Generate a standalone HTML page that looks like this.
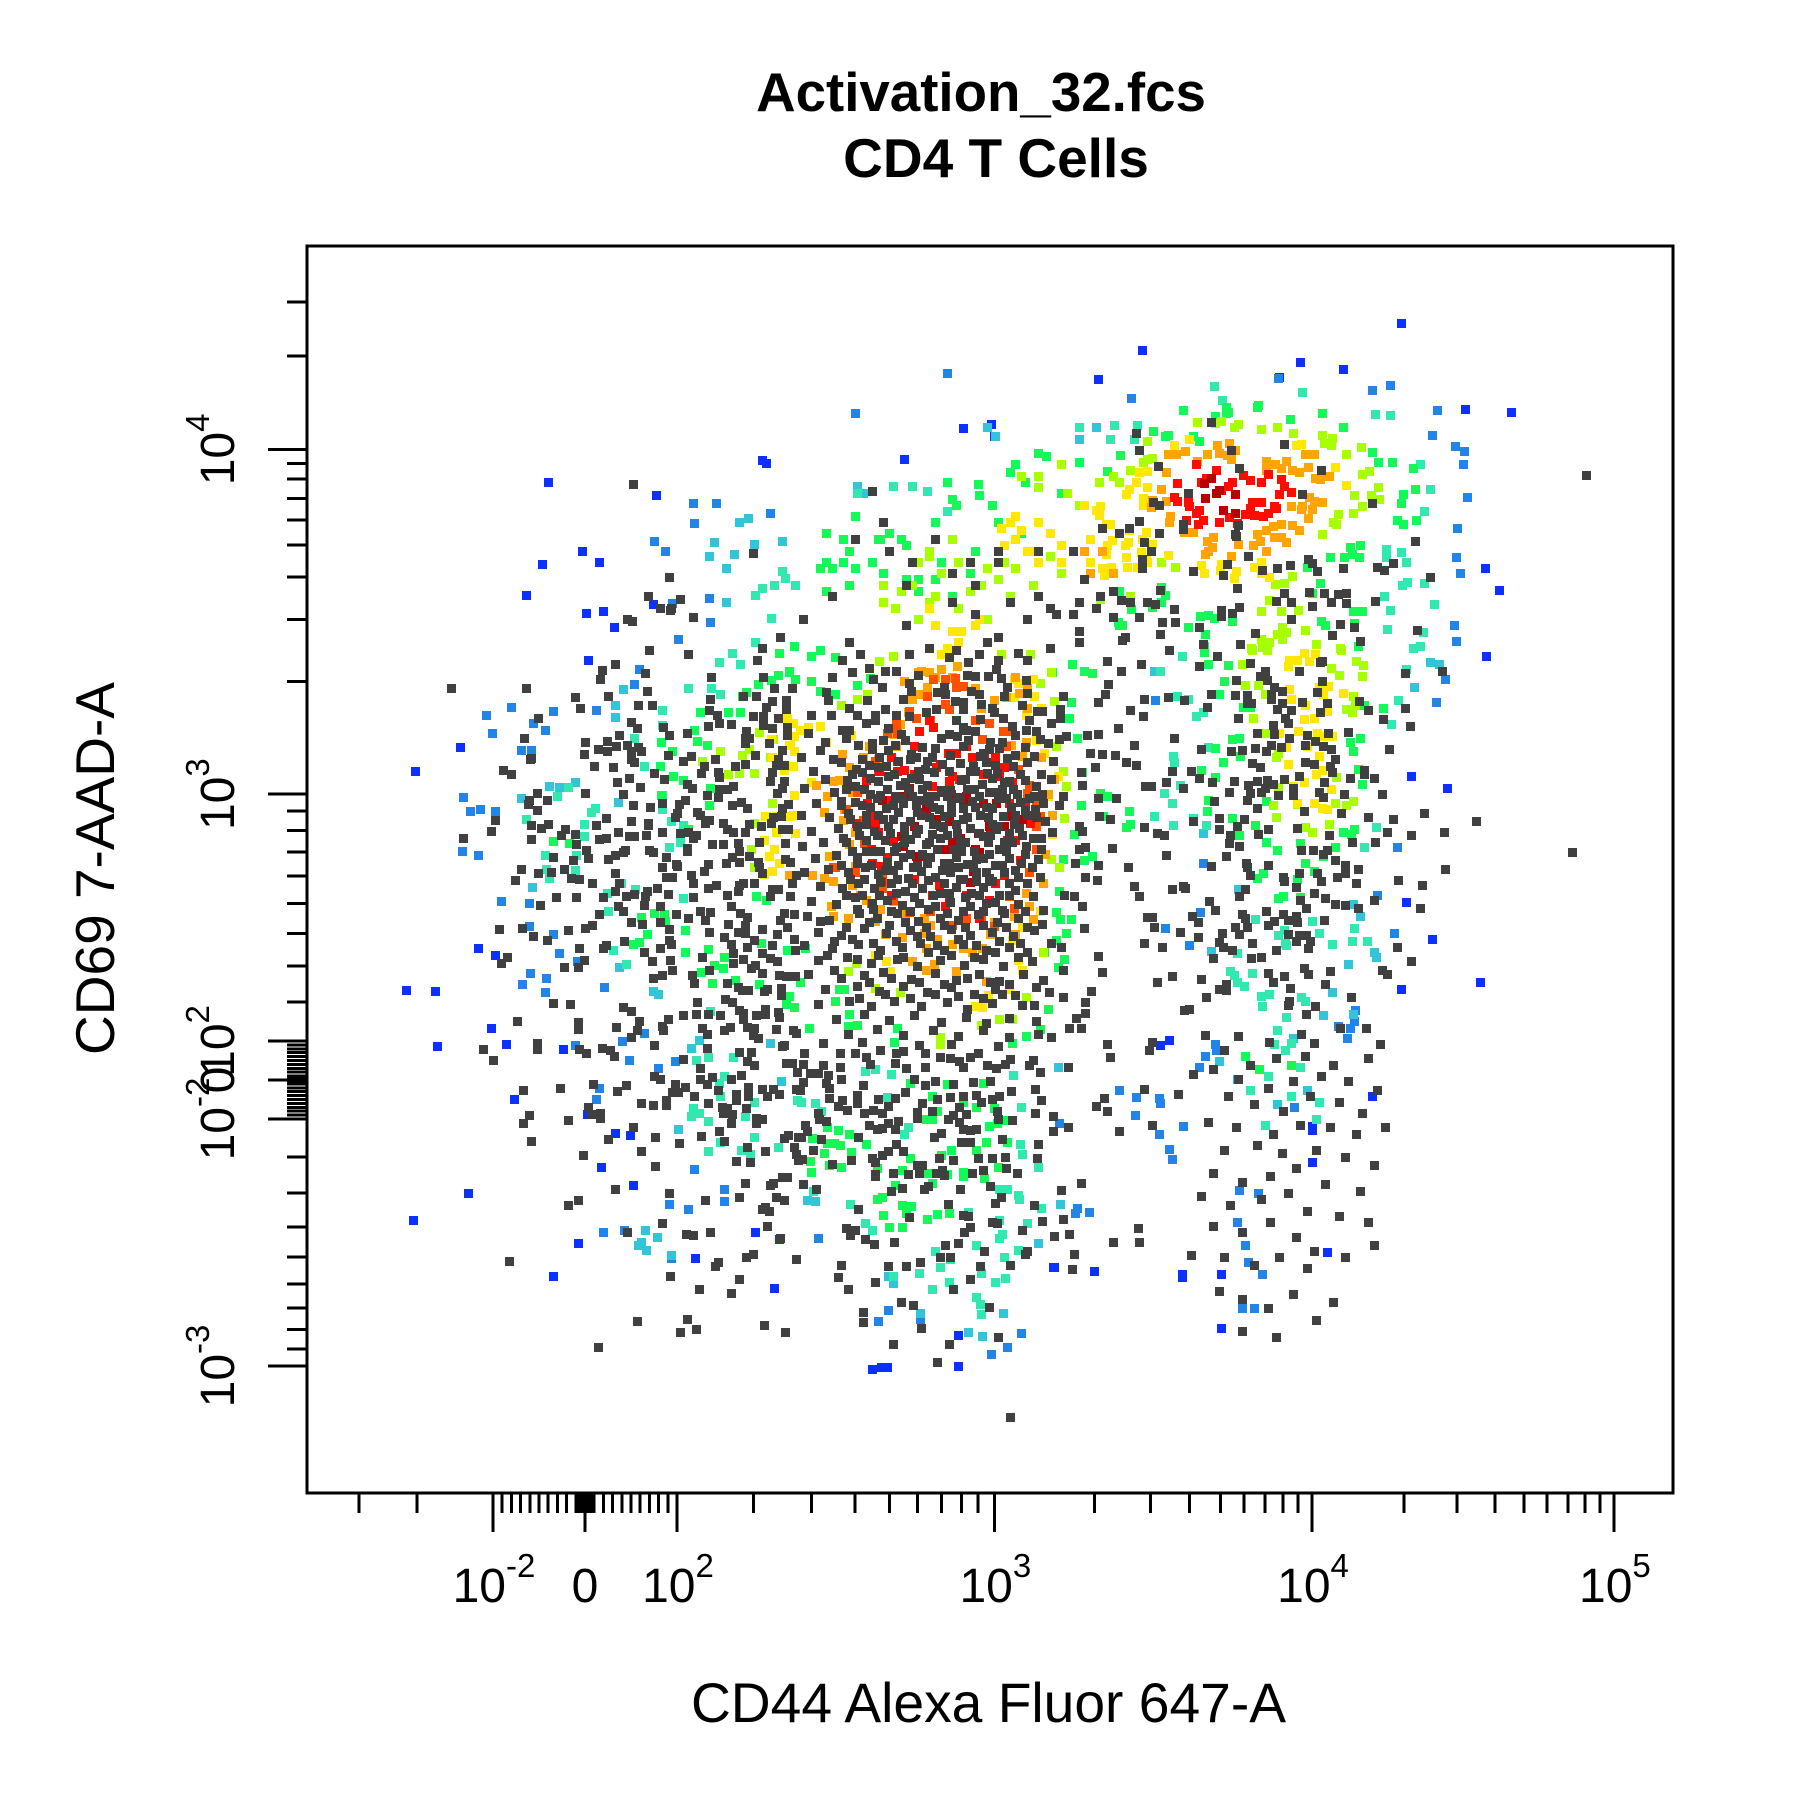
<!DOCTYPE html>
<html><head><meta charset="utf-8"><title>Activation_32.fcs CD4 T Cells</title>
<style>html,body{margin:0;padding:0;background:#fff}svg{display:block}text{font-family:"Liberation Sans",Arial,sans-serif;fill:#000}</style></head>
<body>
<svg id="chart" xmlns="http://www.w3.org/2000/svg" width="1800" height="1800" viewBox="0 0 1800 1800">
<rect x="0" y="0" width="1800" height="1800" fill="#fff"/>
<g id="events" shape-rendering="crispEdges"></g>
<rect x="307" y="246" width="1366" height="1247" fill="none" stroke="#000" stroke-width="3" shape-rendering="crispEdges"/>
<g id="axes"></g>
<text x="981" y="111" font-size="54.7" font-weight="bold" text-anchor="middle">Activation_32.fcs</text>
<text x="996" y="177" font-size="55" font-weight="bold" text-anchor="middle">CD4 T Cells</text>
<text x="988.5" y="1722" font-size="55.2" text-anchor="middle">CD44 Alexa Fluor 647-A</text>
<text x="0" y="0" transform="translate(114 868.5) rotate(-90)" font-size="55" text-anchor="middle">CD69 7-AAD-A</text>
</svg>
<script>
/* Axis tick locations and event coordinates are in biexponential display channels. */
const xMajorTicks=[162.4,242.6,322.7,599.2,875.9,1138.9];
const xExponents=['-2',null,'2','3','4','5'];
const xMinorTicks=[45.7,96.2,170.4,178.4,186.5,194.5,202.5,210.5,218.6,226.6,234.6,235.4,236.2,237,237.8,238.6,239.4,240.2,241,241.8,243.4,244.2,245,245.8,246.6,247.4,248.2,249,249.8,250.6,258.6,266.7,274.7,282.7,290.7,298.7,306.7,314.7,389.4,440,478,507.7,532.2,553,570.6,585,686.6,735.2,769,796.1,816.6,834.9,850.6,863.7,956,1002.2,1035.2,1060.5,1080.6,1098.9,1113.7,1126.7];
const yMajorTicks=[110.1,325.2,359.2,393.2,608.2,908.5];
const yExponents=['-3','-2',null,'2','3','4'];
const yMinorTicks=[124.9,141.9,160.6,181.5,205,231.2,260.8,292.2,328.6,332,335.4,338.8,342.2,345.6,349,352.4,355.8,356.5,357.2,357.9,358.6,359.8,360.5,361.2,361.9,362.6,366,369.4,372.8,376.2,379.6,383,386.4,389.8,427,458.4,486.9,513.1,536.9,557.6,576.6,593.6,706.4,760.5,797.4,825.3,847.2,865.9,882.7,896.2,989.9,1036.9];

const blueEvents=[954,1018,728,995,690,969,866,984,903,978,1050,941,1010,943,848,971,599,920,521,900,572,927,597,930,1027,805,1039,786,1028,728,963,624,994,613,958,514,981,482,1023,444,954,438,752,394,744,389,397,899,401,896,211,880,305,868,240,820,255,810,206,808,192,781,244,766,259,767,268,753,302,773,246,725,134,649,95,628,150,474,165,468,87,437,112,436,161,404,174,390,114,388,224,386,181,342,245,329,269,313,282,311,257,283,285,267,141,260,93,237,237,217,391,226,412,220,339,204,215,188,408,178,889,209,797,190,763,187,686,192,652,196,651,196,568,137,501,109,493,107,506,109,568,110,797,143,876,287,876,319,797,143,763,190,929,345,889,209,876,315];
const azureEvents=[719,953,847,970,929,960,985,942,944,964,981,921,1001,911,1009,907,1008,895,1011,867,1003,840,1002,814,1005,800,1000,755,1002,741,337,861,357,861,404,853,338,844,303,828,313,820,351,779,319,774,352,758,324,743,290,717,286,704,215,680,253,681,198,670,208,664,162,661,187,646,196,646,137,605,143,593,152,595,165,593,136,558,150,555,179,684,157,677,446,221,507,158,498,149,535,151,672,247,670,243,682,244,623,138,611,126,597,120,722,328,743,312,764,319,743,343,744,339,723,344,656,321,708,350,752,299,754,290,992,708,984,688,740,690,950,562,781,548,933,520,779,505,748,491,948,487,769,476,909,404,913,410,899,406,792,390,194,493,215,486,220,469,236,462,195,452,209,448,188,442,208,435,260,440,275,393,294,400,281,376,307,369,321,375,234,389,255,352,253,342,338,281,316,251,333,246,364,264,364,253,259,226,277,228,318,204,170,515,194,513,558,975,478,940,783,380,793,385,778,370,818,215,821,200,815,160,826,160,829,260,813,263,861,335,833,190,811,235,914,420,907,395];
const cyanEvents=[377,845,385,848,415,828,355,827,390,826,351,815,373,817,366,805,366,775,276,699,269,685,269,675,212,615,234,618,187,604,272,601,197,527,220,614,436,254,443,253,507,188,511,182,607,156,638,217,657,251,577,139,589,136,655,370,535,156,987,721,979,723,965,701,739,715,912,512,918,502,781,574,812,525,894,435,912,416,930,470,932,466,908,460,788,471,886,415,273,457,302,436,307,434,342,394,335,387,404,391,414,358,324,316,295,228,306,222,292,218,296,211,289,215,318,206,480,876,485,870,593,928,600,920,673,917,688,928,811,360,795,375,860,395,846,338,872,350];
const tealEvents=[704,929,724,929,791,963,798,951,868,958,931,939,944,938,970,895,979,874,974,854,967,847,941,821,954,819,941,814,958,810,959,793,955,790,974,792,939,780,983,773,944,768,942,752,973,749,970,737,964,735,415,802,417,796,408,790,397,787,391,781,426,790,405,761,391,740,371,731,360,723,378,721,333,700,353,700,361,695,310,681,310,668,286,657,294,632,219,606,228,614,252,596,248,592,192,586,242,582,242,571,318,584,328,581,310,595,310,607,316,562,326,566,208,555,235,555,234,542,209,543,212,535,274,530,287,525,262,522,328,517,443,339,431,340,449,332,442,262,474,251,487,234,493,228,524,318,521,312,506,344,510,364,623,335,616,363,622,303,624,294,638,283,604,264,611,264,620,259,621,255,640,247,577,244,604,237,628,234,606,225,604,221,584,215,548,210,552,196,534,191,560,183,545,177,511,188,600,183,609,186,588,191,584,170,587,164,588,155,620,211,608,205,561,203,487,367,496,368,763,728,744,715,759,693,768,691,775,676,781,679,755,641,756,636,761,616,747,609,754,600,739,589,755,581,784,581,773,587,951,690,945,669,958,717,932,579,922,562,913,491,911,480,924,480,894,477,882,487,876,497,852,489,847,485,853,478,854,476,827,499,811,469,823,465,805,454,808,450,811,444,817,441,824,452,839,434,832,432,833,423,870,428,867,431,854,414,846,402,858,391,786,649,263,506,267,472,279,460,352,419,350,379,340,376,372,379,364,362,360,356,361,345,390,340,337,334,342,330,335,327,350,323,382,327,390,309,361,305,379,298,387,294,350,297,411,300,428,341,480,870,511,876,528,876,541,872,558,854,700,917,721,917,673,928,853,385,843,390,822,350,835,320,866,370,838,362,858,345,882,340,880,325];
const greenEvents=[764,942,738,924,751,921,709,903,698,889,792,937,803,941,801,945,829,947,857,935,885,940,903,928,929,906,934,897,946,897,956,869,954,861,964,892,966,874,950,847,956,843,967,847,909,823,918,825,911,817,892,814,904,814,917,814,872,806,883,792,748,781,745,788,719,769,737,771,876,783,779,763,786,764,791,761,807,759,768,753,783,747,782,737,884,759,888,755,912,767,920,767,913,757,916,737,707,758,711,755,425,737,412,731,411,712,421,714,405,707,394,704,426,708,383,697,380,693,368,679,378,679,343,679,338,664,309,653,319,645,341,654,349,651,308,632,320,624,328,620,352,613,351,598,215,567,229,565,309,607,333,577,440,728,448,733,461,727,421,715,440,706,480,703,461,695,448,698,491,709,499,724,667,721,678,715,685,713,666,688,650,714,665,674,672,657,676,627,697,606,692,609,717,593,714,579,718,582,669,573,685,554,678,550,675,598,659,551,656,523,392,519,401,516,653,481,662,487,666,499,657,499,653,505,643,470,660,464,655,457,435,474,419,472,396,478,430,444,464,438,461,428,469,438,421,432,418,425,425,422,515,404,512,392,473,416,438,404,472,406,480,407,694,589,698,606,646,421,639,403,627,397,615,391,463,315,473,312,454,318,441,308,454,304,460,304,465,302,451,295,475,296,439,288,456,285,466,283,440,279,488,303,497,282,519,280,513,267,497,255,502,257,519,250,527,249,523,243,503,241,508,231,519,231,541,238,550,242,560,243,526,291,553,293,562,298,584,298,592,305,595,319,611,305,572,279,572,275,591,273,603,283,542,278,545,269,558,277,540,325,545,325,550,332,545,345,572,340,584,335,599,334,607,324,602,321,562,355,590,356,526,356,558,355,782,732,786,721,803,720,800,706,795,695,816,684,822,684,938,683,922,685,807,656,813,657,799,636,814,641,792,648,918,657,909,653,912,645,780,629,792,623,916,630,920,617,836,602,786,603,785,593,807,587,827,581,813,572,836,566,846,559,866,565,896,562,913,577,903,575,910,573,886,554,870,548,878,541,834,539,828,535,863,534,851,519,847,517,866,518,292,501,303,504,312,503,313,497,297,486,290,479,285,477,330,489,330,470,350,473,364,466,355,459,363,456,344,453,374,446,354,443,395,442,558,880,586,868,613,888,645,902,673,897,566,860,500,830,518,830,468,810,478,805,453,810,583,820,553,810,708,785,773,920,801,940,828,945,748,920,778,915,708,755,745,775,618,895,626,880,638,905,658,870,533,795,523,795,493,810,503,800,473,790,453,785,498,830,473,820,458,805,453,835,478,850,508,835,468,830,448,805,523,825,548,845,563,865,598,860,585,878,533,785,548,795,563,780,578,800,603,845,623,835,818,380,830,368,858,372];
const limeEvents=[776,932,792,931,797,933,808,928,812,930,832,926,846,928,860,922,885,921,894,918,887,914,893,912,906,904,919,910,920,887,926,889,934,875,928,868,913,868,920,859,935,865,912,853,899,852,895,845,897,843,885,834,729,897,737,901,745,810,757,806,859,798,852,792,844,791,832,767,849,767,839,777,864,768,870,751,850,753,846,747,854,749,850,743,832,743,839,740,880,739,901,735,718,780,692,778,823,735,833,736,390,626,377,626,368,625,386,647,380,642,361,645,345,637,395,662,407,656,404,640,388,560,390,583,406,600,390,544,511,728,499,724,605,730,631,730,649,714,639,705,652,689,480,691,466,685,489,695,401,589,660,587,662,615,659,628,653,650,649,551,656,544,627,431,615,412,496,439,517,435,472,454,479,461,552,396,552,390,604,412,588,407,642,470,624,455,815,721,824,733,837,733,902,733,915,724,921,720,920,711,900,712,893,718,829,703,818,703,835,695,912,693,906,682,911,679,914,685,825,674,836,661,845,640,847,644,842,598,845,588,863,599,896,600,906,598,912,602,891,582,870,579,876,575,897,623,847,614,860,614,623,885,638,875,503,790,518,785,548,780,568,770,613,780,633,790,658,800,663,870,691,880,703,885,733,915,733,900,533,760,543,775,593,760,503,775,528,790,578,785,603,795,618,805,648,815,673,860,708,880,718,890,553,800,568,810,588,790,593,805,608,810,638,885,658,895,563,830,543,815,543,820,513,770,533,810];
const yellowEvents=[756,912,769,917,733,889,726,888,729,866,729,860,717,874,714,869,692,859,691,851,697,843,700,843,717,838,702,829,716,827,732,836,737,826,727,819,751,816,732,812,714,814,697,817,701,806,715,806,724,806,695,799,780,807,782,800,797,808,796,803,810,802,808,796,826,806,832,810,832,800,839,797,867,913,862,912,896,893,906,877,418,676,424,670,425,658,421,651,425,645,405,656,406,640,416,629,424,632,400,589,409,589,422,589,425,607,399,568,408,560,403,554,412,548,406,541,399,538,409,575,426,574,617,708,620,705,617,692,633,708,634,693,627,677,640,683,419,673,430,664,437,666,448,667,475,659,453,653,422,651,424,632,643,644,636,655,627,653,646,606,655,624,424,590,440,618,444,616,615,481,624,492,633,499,639,506,496,468,505,462,509,454,620,463,624,455,612,438,594,433,583,423,589,422,650,573,856,725,855,719,863,725,869,731,874,724,879,730,856,699,858,691,890,702,903,696,869,673,878,674,864,663,881,661,886,658,894,658,854,649,872,650,882,641,855,634,885,629,880,625,869,618,893,612,860,615,863,600,878,600,885,596,889,595,882,701,886,695,870,685,889,680,848,661,605,840,613,845,623,838,618,830,628,820,638,845,648,835,658,825,638,810,678,860,688,855,683,830,698,825,658,810,728,830,713,825,733,810,723,880,733,875,683,810,693,805,548,755,563,750,543,770,558,735,568,740,583,755,571,750,553,730,586,760,618,850,631,820,608,825];
const orangeEvents=[751,904,758,904,766,907,749,888,745,874,794,912,804,914,809,908,785,904,776,898,802,903,806,900,795,905,836,898,844,895,854,898,849,892,859,890,865,888,836,890,873,893,878,904,870,904,879,883,883,882,891,885,874,867,878,863,885,862,867,856,876,856,858,859,868,859,873,848,859,842,865,838,849,843,849,832,854,827,843,832,836,820,828,834,831,828,825,825,812,826,836,838,842,841,790,832,785,828,789,823,786,820,783,817,806,815,753,850,752,845,773,836,765,836,749,863,737,864,736,858,536,715,543,714,553,717,567,719,533,714,521,706,541,701,528,691,599,690,588,683,524,679,517,669,512,660,514,650,498,638,473,631,454,606,444,616,459,619,451,592,467,643,469,595,473,564,456,554,461,544,451,535,459,532,476,529,488,516,511,515,457,510,459,502,496,497,504,486,519,483,522,503,538,500,544,494,563,494,538,487,540,474,563,477,572,474,589,474,596,486,599,496,617,502,633,499,621,696,628,683,607,663,614,651,627,653,624,641,646,608,652,621,627,522,618,486,528,462,540,455,566,454,592,445,547,460,441,537,421,537,683,800,693,820,703,800,678,820,548,710,563,710,533,695,583,700,628,700,618,710,464,620,476,610,468,585,478,575,485,640,490,650,478,545,483,520,500,508,472,500,610,692,640,640,650,590,644,556,642,530,630,510,580,470,550,482];
const redOrangeEvents=[557,708,546,708,565,709,572,702,566,701,541,693,531,674,544,672,557,686,560,682,583,672,595,670,589,656,514,669,515,661,496,637,498,628,470,595,506,661,630,616,628,609,636,603,636,580,639,589,610,663,607,663,459,544,502,526,502,534,492,513,511,516,612,519,617,509,544,506,563,494,588,500,599,493,636,560,461,544,493,548,525,680,610,650,620,630,480,610,485,585,486,565,478,540,630,540,640,570,525,505,575,500];
const redEvents=[775,895,793,890,780,880,759,879,784,883,807,880,816,886,822,881,832,880,838,887,849,882,852,876,848,869,858,871,843,859,832,862,824,862,822,857,845,857,838,853,834,850,826,851,818,852,804,849,795,845,811,844,778,855,775,853,781,847,777,843,768,862,769,859,759,863,756,867,767,847,797,873,803,876,534,663,546,666,543,672,559,644,566,644,515,637,515,628,499,628,521,629,552,634,549,631,591,644,563,624,569,621,560,619,505,603,489,600,496,590,496,583,479,583,511,567,506,553,501,545,493,548,501,532,530,534,551,529,560,516,557,510,595,516,586,500,608,537,618,568,611,568,631,583,623,586,626,600,615,618,604,624,608,631,530,625,545,615,590,625,600,640,510,640,488,620,498,575,492,560,510,520,545,520,575,520,600,530,622,550,612,600,580,640,530,650,575,650];
const darkRedEvents=[782,879,788,883,793,870,809,869,783,866,795,873,799,855,809,853,521,606,502,603,525,613,549,586,560,584,562,608,572,603,575,606,601,600,610,589,608,580,585,574,583,560,586,557,563,566,557,560,551,560,518,571,520,563,531,554,581,541,578,531,624,586,537,554,540,595,595,580,570,570,530,580,590,600];
const grayEvents=[1115,886,1103,557,788,932,723,922,726,908,742,894,806,908,852,913,813,892,884,890,768,870,868,869,738,862,743,860,929,861,726,846,717,840,693,840,764,843,764,839,812,842,809,834,810,833,743,835,730,827,736,820,728,813,966,828,821,815,802,808,873,813,876,809,947,809,933,806,939,803,773,802,799,799,833,803,846,805,857,807,881,802,903,805,979,797,744,786,811,787,852,783,874,784,887,783,899,782,906,783,692,780,710,777,740,773,756,769,845,776,858,775,876,772,893,775,906,774,931,776,813,771,797,768,797,763,807,766,703,762,726,762,746,758,757,758,858,760,901,756,913,753,778,753,827,748,744,747,894,746,711,742,918,741,781,739,814,739,968,751,
493,872,503,845,478,830,528,810,523,790,563,800,583,790,603,810,603,820,638,780,648,770,668,765,708,835,728,805,733,775,703,785,718,775,688,770,673,775,713,745,673,750,653,765,628,760,603,745,523,755,543,735,593,740,628,725,648,735,673,740,603,725,458,780,473,740,433,760,413,745,393,725,423,700,398,710,353,710,333,730,318,770,298,780,458,710,483,730,563,775,583,765,508,820,548,830,578,810,638,820,668,820,678,795,613,775,
752,733,794,728,778,719,822,722,865,715,883,723,885,724,957,713,990,715,835,715,831,711,837,707,810,707,885,706,843,701,850,698,841,695,881,697,788,695,809,694,820,694,751,692,765,690,785,684,820,687,823,687,841,691,850,687,846,682,858,681,868,688,889,687,883,679,917,689,925,681,957,683,938,673,812,674,853,674,842,668,855,670,962,667,908,662,890,661,756,657,828,661,843,660,856,657,872,659,870,651,879,654,780,647,827,648,815,646,806,645,841,651,849,649,836,645,886,650,893,647,896,638,943,647,824,635,831,631,870,636,878,634,754,628,771,628,892,632,894,627,922,629,922,625,930,622,778,622,909,622,852,621,865,624,808,619,789,618,749,618,764,613,736,615,821,616,828,619,837,620,842,617,835,613,804,610,822,609,832,610,860,613,847,607,860,607,887,618,882,610,886,605,904,608,937,608,791,602,820,603,828,596,869,593,974,591,902,591,925,588,947,586,1019,584,795,587,773,584,817,586,795,577,811,580,863,578,838,577,942,575,991,575,741,574,747,572,829,573,891,572,963,572,805,572,804,565,813,563,911,566,931,566,867,559,877,559,889,559,886,556,749,555,801,554,819,548,820,544,838,546,896,550,905,546,916,543,788,545,992,543,822,537,865,539,881,539,898,536,905,539,851,536,852,532,884,532,951,533,915,530,972,529,764,528,754,525,766,526,818,525,862,527,813,519,878,522,866,516,888,517,930,516,787,515,896,512,905,511,916,509,792,507,871,509,970,509,836,506,815,503,851,503,862,502,737,501,772,502,818,500,887,498,777,496,838,494,843,497,855,498,863,496,809,492,820,492,739,492,761,488,777,483,798,487,813,486,855,486,865,485,871,485,795,479,799,475,875,480,862,480,746,475,807,472,824,478,873,474,845,472,950,475,790,465,823,465,832,466,963,462,869,456,873,451,892,454,937,455,942,451,754,449,780,447,741,444,838,452,852,449,842,444,888,442,801,442,795,438,801,437,857,439,910,431,784,431,856,428,855,424,879,423,769,421,765,420,871,416,901,404,923,404,783,398,812,397,867,399,839,392,878,391,936,390,737,392,
800,385,822,372,845,378,870,380,895,372,925,378,790,368,812,360,838,352,860,358,884,362,908,358,933,350,803,345,826,338,851,332,875,345,900,340,920,330,786,322,810,318,842,312,866,320,892,318,915,312,940,318,800,298,828,302,850,295,880,298,905,292,930,285,790,278,815,270,840,275,862,282,888,268,918,262,780,258,805,250,832,255,855,260,872,245,900,240,925,235,790,232,815,226,840,235,862,222,878,210,905,205,930,215,800,205,826,198,848,205,872,195,795,175,815,168,838,160,860,172,880,150,895,165,815,140,845,135,
285,878,316,797,389,818,326,778,308,770,317,768,337,762,280,760,284,759,299,733,397,735,269,721,258,716,256,708,295,713,126,700,192,700,408,700,297,698,234,692,263,693,352,691,381,693,392,693,406,689,418,690,239,683,289,685,301,685,401,684,418,682,351,681,358,677,202,674,389,676,398,676,411,674,283,671,360,670,370,669,398,668,406,665,419,666,288,665,311,666,350,667,190,657,273,659,316,659,332,661,383,663,419,659,382,657,386,657,382,652,243,653,262,654,403,652,254,647,270,650,280,651,289,649,292,645,262,645,242,643,283,645,315,642,335,641,391,642,415,646,196,639,195,638,283,638,328,637,356,638,286,636,411,638,416,633,172,629,179,625,251,632,267,631,382,634,374,632,409,633,347,632,303,626,359,627,406,627,281,622,312,621,344,626,360,623,271,618,332,617,404,619,416,619,291,614,336,613,372,615,360,612,367,612,201,609,243,609,415,613,276,608,349,607,410,609,210,603,194,603,193,599,359,605,330,603,310,600,325,599,371,598,379,601,201,594,285,598,300,597,384,596,415,596,420,599,323,591,341,592,343,590,414,589,165,585,261,587,321,588,211,582,283,584,298,583,351,585,407,588,196,581,253,581,205,578,298,581,348,583,363,583,386,582,396,580,405,583,161,576,226,577,272,575,310,575,326,574,333,575,367,577,372,575,382,575,415,577,420,577,137,570,196,569,222,572,234,573,255,569,261,570,281,571,286,571,296,572,340,572,337,570,332,561,354,564,363,564,376,565,395,566,417,565,235,564,244,559,278,559,276,557,299,559,302,557,332,558,377,558,215,553,246,552,269,555,263,551,371,553,386,554,233,550,314,553,322,547,350,547,366,548,377,549,394,549,417,551,422,549,187,543,310,544,323,545,225,543,347,541,395,544,202,539,213,540,269,539,397,539,182,533,231,535,238,534,314,536,335,537,319,536,249,530,273,530,337,530,427,537,390,530,381,530,306,526,350,526,357,529,377,529,269,523,297,523,406,525,423,530,411,525,218,518,235,518,259,518,279,519,286,521,295,519,315,521,337,518,367,520,376,523,404,519,422,519,
204,511,255,503,272,510,276,506,294,511,308,510,322,503,333,500,343,506,352,505,370,510,378,504,384,501,416,504,425,503,249,494,283,496,293,495,308,496,348,498,368,495,413,498,168,490,188,491,243,491,316,490,382,494,397,490,419,492,198,484,228,489,351,488,376,488,382,487,410,486,210,481,277,480,316,481,364,483,390,481,425,482,238,474,259,474,261,476,308,474,318,477,370,477,384,475,406,476,175,466,294,470,345,466,372,469,397,469,426,472,170,461,242,463,301,462,317,463,381,464,372,461,404,465,410,462,225,457,237,457,319,455,351,455,388,456,391,459,397,452,310,450,302,448,336,450,412,450,418,449,426,449,338,443,367,443,376,440,380,437,385,437,399,436,414,439,402,438,365,429,371,427,215,426,230,425,276,422,283,419,341,427,414,433,184,410,237,409,237,403,270,405,290,410,288,402,311,402,310,406,315,412,328,415,340,416,350,416,361,415,377,420,381,417,381,412,392,415,400,421,400,416,411,418,412,414,345,404,364,402,369,405,384,405,390,404,409,403,424,402,283,396,349,399,389,398,394,395,427,400,201,391,201,386,154,386,238,386,244,382,258,387,265,385,303,389,349,387,416,389,415,388,163,376,268,380,328,377,377,383,388,383,384,375,390,372,423,374,418,374,343,369,428,366,303,362,308,360,343,360,354,361,370,360,379,363,189,350,221,352,250,355,279,354,271,349,321,355,330,353,349,355,359,350,385,353,397,351,407,351,427,351,319,348,324,348,338,345,375,347,385,345,402,345,412,347,292,339,302,337,314,341,314,337,350,339,375,341,246,335,362,335,383,334,194,328,256,330,367,334,371,329,363,330,189,321,228,324,248,329,256,326,392,326,397,325,392,321,370,321,285,318,360,314,196,306,263,307,304,309,325,304,344,310,364,306,416,308,420,311,429,309,292,297,384,300,400,297,425,300,427,294,241,293,304,284,375,288,387,287,429,289,382,269,269,264,316,260,377,257,404,267,407,269,415,274,419,274,237,254,228,250,348,254,409,257,416,254,397,246,403,245,400,248,310,234,402,232,280,226,331,225,337,224,352,226,413,221,177,201,359,200,356,197,383,205,389,207,427,203,317,188,377,185,342,177,370,173,288,149,332,151,340,142,326,139,399,145,417,139,254,126,
434,382,465,382,478,382,488,379,500,385,514,382,520,384,539,382,552,379,561,378,569,375,578,379,585,382,613,377,633,376,700,379,734,385,433,373,450,372,465,370,491,373,513,374,523,369,539,370,572,370,593,372,601,369,609,373,630,372,639,366,664,370,439,365,446,365,455,363,433,357,453,356,466,360,485,354,530,360,539,354,548,358,564,355,581,357,596,358,614,349,635,351,773,364,456,352,430,350,480,346,522,348,572,345,561,344,584,346,604,345,456,343,467,341,498,342,513,343,537,339,550,342,588,340,598,342,640,341,695,343,730,351,760,347,463,336,471,333,480,339,507,336,494,333,486,330,446,330,502,330,532,331,545,332,569,335,602,332,688,336,635,330,698,332,447,325,453,323,532,326,559,325,564,328,575,329,603,325,615,324,651,327,490,320,516,323,435,320,507,321,569,322,553,313,572,316,584,316,578,315,497,316,502,317,513,316,664,318,708,314,651,314,737,320,436,314,481,309,449,307,547,309,431,309,606,307,514,303,571,305,578,305,638,303,442,298,507,297,520,297,502,293,475,289,493,291,432,290,551,291,564,289,585,291,598,291,609,292,637,291,496,287,458,286,532,285,537,285,496,277,496,275,511,278,524,277,534,278,554,280,556,276,549,278,580,278,590,280,610,282,619,278,433,268,444,264,613,65,550,113,511,129,560,129,603,135,536,143,485,148,485,157,529,163,518,165,595,161,564,177,496,183,472,177,463,187,578,185,507,197,523,197,535,200,466,198,587,197,613,198,552,205,561,205,591,210,628,210,626,207,667,194,669,207,771,206,703,218,726,218,725,230,652,223,665,225,624,228,568,217,557,215,512,218,495,216,487,220,474,224,478,228,470,230,573,226,578,231,602,234,598,235,641,236,659,238,634,250,600,252,481,246,525,239,572,241,577,240,559,251,658,263,675,269,605,257,570,264,538,264,542,266,519,265,510,262,596,266,
698,724,727,721,710,715,699,704,696,695,730,691,690,688,718,681,729,676,707,665,680,659,690,660,721,651,683,644,693,643,705,642,714,636,723,633,687,631,675,627,676,616,731,615,659,606,690,604,706,604,700,586,691,589,673,580,676,576,730,579,702,561,673,560,679,562,690,546,716,544,670,548,679,536,689,533,721,528,660,520,669,519,726,519,676,510,733,501,678,491,730,478,658,475,690,467,693,453,659,455,684,436,659,431,679,427,679,417,634,424,647,435,671,413,649,396,665,404,675,404,698,390,
467,725,525,730,560,727,566,733,586,730,620,731,577,723,490,718,504,715,514,715,476,714,494,708,533,712,576,712,583,711,594,711,601,717,605,709,502,701,525,705,527,698,627,707,611,701,556,701,550,697,557,695,579,698,586,695,628,696,608,693,453,697,455,690,489,690,520,691,565,689,572,688,572,682,588,686,598,683,599,679,624,685,637,680,641,680,659,693,657,682,473,683,480,677,496,677,504,682,514,677,525,676,540,679,549,682,607,674,587,673,630,672,649,670,657,674,457,677,440,677,488,670,496,672,507,665,467,664,473,664,566,672,572,666,560,660,567,658,575,664,583,663,615,667,627,664,636,663,639,656,656,656,662,658,
437,661,452,653,470,657,481,651,503,655,518,660,537,649,553,657,596,653,604,648,618,659,646,652,431,640,448,646,459,638,493,647,499,640,513,651,527,643,541,637,572,650,587,641,595,647,611,639,626,649,634,641,651,637,442,628,466,636,479,630,490,633,505,632,526,638,533,628,545,640,570,635,583,628,592,636,602,626,616,632,628,636,640,625,452,621,471,620,484,627,498,619,512,625,522,618,534,621,547,627,553,611,571,620,578,628,589,617,598,622,612,619,622,625,636,615,649,621,434,613,460,610,478,615,491,608,506,612,517,616,528,606,537,612,543,601,556,610,567,605,576,612,586,606,595,610,606,612,619,608,630,604,641,608,444,600,466,602,484,598,497,604,511,598,519,604,531,598,541,606,551,595,562,600,572,596,580,602,592,597,603,604,614,597,622,601,635,595,656,598,431,590,456,588,472,591,488,590,503,586,516,592,526,584,536,590,546,582,556,589,566,582,576,588,587,590,598,582,607,589,617,582,628,590,644,584,440,576,463,578,480,580,495,576,507,580,521,575,533,577,545,573,555,579,567,574,578,578,590,571,601,577,612,574,621,578,633,570,650,575,432,563,450,566,470,566,488,568,504,568,514,562,526,569,540,564,552,570,564,560,574,566,582,558,594,566,604,560,615,566,627,563,640,560,443,552,462,555,480,553,494,558,506,549,520,553,532,546,544,553,556,548,566,553,576,547,590,552,600,546,612,552,623,548,638,551,434,540,455,543,472,540,487,544,498,538,511,542,524,535,536,541,548,536,561,540,572,534,584,540,595,535,608,540,620,536,639,536,448,528,467,526,481,530,495,526,510,530,522,523,537,526,552,522,566,527,579,522,590,527,604,520,618,524,633,519,440,515,462,512,478,518,493,513,506,516,519,511,534,513,548,510,561,514,578,510,592,513,606,507,620,512,642,507,436,502,456,498,482,504,497,500,515,504,533,497,552,500,568,498,585,503,602,496,620,500,641,495,446,488,466,485,486,491,505,487,526,489,544,484,562,490,578,485,598,488,616,484,634,489,434,476,458,474,481,477,500,472,519,475,535,478,556,472,572,477,592,472,612,475,628,470,649,478,446,463,471,466,492,461,515,464,532,458,552,463,573,459,590,464,607,458,632,462,437,451,460,455,486,450,503,453,527,447,548,452,566,446,586,451,604,445,625,451,642,446,452,438,480,441,499,436,520,441,541,435,562,440,582,434,600,438,618,433,636,440,446,425,473,428,492,423,512,428,536,423,558,427,576,421,598,426,624,424,462,412,486,416,508,411,530,415,553,409,575,414,592,408,612,413,636,410,472,399,497,403,520,398,546,402,568,397,590,402,612,396,638,399,450,391,484,392,534,389,562,390,603,388];
const grayCoreEvents=[493,652,507,646,522,655,531,640,548,648,561,642,577,655,590,644,606,653,484,638,498,631,516,637,539,630,554,634,581,632,600,633,618,642,476,625,491,622,507,624,527,622,541,616,560,628,574,621,593,626,608,618,626,620,470,612,486,612,500,607,513,606,524,612,548,606,561,611,582,612,600,610,616,612,634,606,466,598,478,601,491,597,505,596,520,600,535,603,546,597,558,606,570,604,583,597,598,596,610,604,626,594,642,600,474,586,488,582,498,590,511,586,521,580,532,592,543,588,552,580,562,592,572,586,594,588,603,580,618,590,636,588,468,570,482,572,497,572,509,574,521,566,531,574,543,566,558,572,570,566,586,574,596,572,608,566,624,572,640,570,476,558,488,558,500,558,512,558,526,556,537,556,550,560,560,548,571,558,584,551,595,556,610,558,626,556,466,546,480,548,492,546,504,542,516,546,529,544,541,548,554,542,568,544,581,544,592,540,606,546,618,542,632,544,474,534,486,534,500,531,515,534,528,530,542,533,556,530,570,534,584,532,598,532,612,530,628,530,470,520,484,520,499,520,514,522,530,518,546,520,560,522,574,518,586,520,600,514,612,520,480,508,494,508,510,506,526,506,542,508,558,504,572,506,590,506,608,504,626,506,448,497,470,492,490,496,508,494,522,496,540,492,556,494,574,492,590,494,610,492,628,492,460,480,476,482,494,478,514,480,532,484,550,476,568,482,584,476,604,480,622,478,454,468,480,464,498,468,520,466,542,470,562,468,582,466,600,470,620,466,466,448,490,444,510,448,534,444,556,442,576,448,596,444,612,442,482,430,504,434,526,430,548,434,568,432,590,430,606,434];

const channelToPx=1800/1568;
function xScale(channel){return (channel+267)*channelToPx;}
function yScale(channel){return (1300-channel)*channelToPx;}

const svgNS='http://www.w3.org/2000/svg';
const eventLayer=document.getElementById('events');
const axisLayer=document.getElementById('axes');

function drawEvents(series,color,name){
  for(let i=0;i+1<series.length;i+=2){
    const el=document.createElementNS(svgNS,'rect');
    el.setAttribute('x',Math.round(xScale(series[i])-4.5));
    el.setAttribute('y',Math.round(yScale(series[i+1])-4.5));
    el.setAttribute('width',9);
    el.setAttribute('height',9);
    el.setAttribute('fill',color);
    
    
    eventLayer.appendChild(el);
  }
}
drawEvents(blueEvents,'#0c30ff','event-low-density');
drawEvents(azureEvents,'#2284e6','event-azure-density');
drawEvents(cyanEvents,'#34c4da','event-cyan-density');
drawEvents(tealEvents,'#30e8b0','event-teal-density');
drawEvents(greenEvents,'#14f858','event-green-density');
drawEvents(limeEvents,'#a8ff00','event-lime-density');
drawEvents(yellowEvents,'#ffe800','event-yellow-density');
drawEvents(orangeEvents,'#ffa400','event-orange-density');
drawEvents(redOrangeEvents,'#ff5000','event-red-orange-density');
drawEvents(redEvents,'#ff0c00','event-red-density');
drawEvents(darkRedEvents,'#b80000','event-peak-density');
drawEvents(grayEvents,'#404040','event-outlier');
drawEvents(grayCoreEvents,'#404040','event-outlier-core');

function tickLine(x1,y1,x2,y2,name){
  const el=document.createElementNS(svgNS,'line');
  el.setAttribute('x1',x1);
  el.setAttribute('y1',y1);
  el.setAttribute('x2',x2);
  el.setAttribute('y2',y2);
  el.setAttribute('stroke','#000');
  el.setAttribute('stroke-width',3);
  el.setAttribute('shape-rendering','crispEdges');
  
  
  axisLayer.appendChild(el);
}
function tickLabel(px,baseline,exponent,rotated,name){
  const t=document.createElementNS(svgNS,'text');
  t.setAttribute('font-size',48);
  t.setAttribute('text-anchor','middle');
  
  
  if(rotated){t.setAttribute('transform','translate('+baseline+' '+px+') rotate(-90)');}
  else{t.setAttribute('x',exponent===null?px:px+1);t.setAttribute('y',baseline);}
  if(exponent===null){t.textContent='0';}
  else{
    const base=document.createElementNS(svgNS,'tspan');
    base.textContent='10';
    t.appendChild(base);
    const sup=document.createElementNS(svgNS,'tspan');
    sup.setAttribute('font-size',33);
    sup.setAttribute('dy',-25);
    sup.textContent=exponent;
    t.appendChild(sup);
  }
  axisLayer.appendChild(t);
}
xMinorTicks.forEach(function(c){tickLine(xScale(c),1493,xScale(c),1513,'x-axis-minor-tick');});
xMajorTicks.forEach(function(c,i){
  tickLine(xScale(c),1493,xScale(c),1532,'x-axis-major-tick');
  tickLabel(xScale(c),1602,xExponents[i],false,'x-axis-tick-label');
});
yMinorTicks.forEach(function(c){tickLine(307,yScale(c),287,yScale(c),'y-axis-minor-tick');});
yMajorTicks.forEach(function(c,i){
  tickLine(307,yScale(c),268,yScale(c),'y-axis-major-tick');
  tickLabel(yScale(c),234,yExponents[i],true,'y-axis-tick-label');
});
</script>
</body></html>
